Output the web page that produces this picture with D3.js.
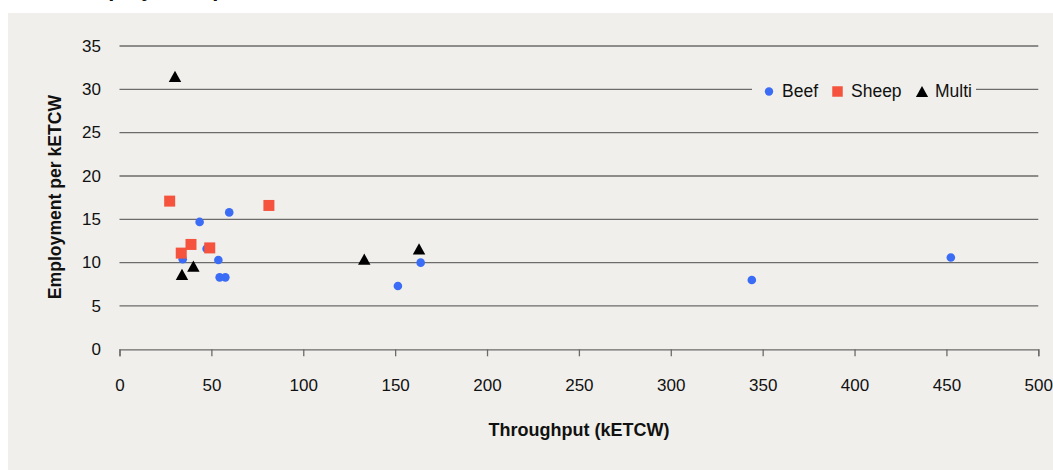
<!DOCTYPE html>
<html>
<head>
<meta charset="utf-8">
<script src="https://cdn.jsdelivr.net/npm/d3@7"></script>
<style>
  body { margin: 0; background: #fff; }
  svg text { font-family: "Liberation Sans", Arial, sans-serif; fill: #111; }
</style>
</head>
<body>
<div class="chart"></div>
<script>
// data
var beefX  = [34.4, 43.6, 47.4, 53.8, 54.5, 57.6, 59.7, 151.5, 163.9, 344.1, 452.4];
var beefY  = [10.4, 14.7, 11.6, 10.3, 8.3, 8.3, 15.8, 7.3, 10.0, 8.0, 10.6];
var sheepX = [27.3, 33.6, 38.9, 49.1, 81.3];
var sheepY = [17.1, 11.1, 12.1, 11.7, 16.6];
var multiX = [30.2, 34.0, 40.2, 133.2, 163.0];
var multiY = [31.5, 8.65, 9.6, 10.4, 11.6];

var xTicks = [0, 50, 100, 150, 200, 250, 300, 350, 400, 450, 500];
var yTicks = [0, 5, 10, 15, 20, 25, 30, 35];
var seriesNames = ["Beef", "Sheep", "Multi"];

var W = 1053, H = 470;
var margin = {top: 46, right: 14.7, bottom: 120.7, left: 119.5},
    width = W - margin.left - margin.right,
    height = H - margin.top - margin.bottom;

// triangle centred on its bounding box
var triBox = {
  draw: function(ctx, size) {
    var w = Math.sqrt(size), h = w * 0.9;
    ctx.moveTo(0, -h / 2);
    ctx.lineTo(w / 2, h / 2);
    ctx.lineTo(-w / 2, h / 2);
    ctx.closePath();
  }
};

var styles = {
  Beef:  {color: "#3a6cf5", type: d3.symbolCircle, size: 58},
  Sheep: {color: "#f5533d", type: d3.symbolSquare, size: 121},
  Multi: {color: "#000000", type: triBox, size: 155}
};

var svg = d3.select(".chart").append("svg")
  .attr("width", W)
  .attr("height", H);

// panel background
svg.append("rect")
  .attr("x", 8).attr("y", 13)
  .attr("width", W - 8).attr("height", H - 13)
  .attr("fill", "#f0efeb");

// title, mostly above the top edge
svg.append("text")
  .attr("x", 74).attr("y", -4)
  .style("font-weight", "bold")
  .style("font-size", "22px")
  .text("Employment per kETCW");

var g = svg.append("g")
  .attr("transform", "translate(" + margin.left + "," + margin.top + ")");

var x = d3.scaleLinear().domain([0, 500]).range([0, width]);
var y = d3.scaleLinear().domain([0, 35]).range([height, 0]);

// gridlines
g.append("g")
  .selectAll("line")
  .data(yTicks.filter(function(d) { return d > 0; }))
  .enter().append("line")
  .attr("x1", 0).attr("x2", width)
  .attr("y1", function(d) { return y(d); })
  .attr("y2", function(d) { return y(d); })
  .attr("stroke", "#6b6b6b")
  .attr("stroke-width", 1.3);

// x axis
var xAxis = g.append("g")
  .attr("transform", "translate(0," + height + ")")
  .call(d3.axisBottom(x).tickValues(xTicks).tickSize(7).tickSizeOuter(7).tickPadding(23));
xAxis.select(".domain").attr("stroke", "#6b6b6b").attr("stroke-width", 1.3);
xAxis.selectAll(".tick line").attr("stroke", "#6b6b6b").attr("stroke-width", 1.3);
xAxis.selectAll(".tick text").style("font-size", "17px").attr("fill", "#111");

// y axis labels only
var yAxis = g.append("g")
  .call(d3.axisLeft(y).tickValues(yTicks).tickSize(0).tickPadding(18.5));
yAxis.select(".domain").remove();
yAxis.selectAll(".tick text").style("font-size", "17px").attr("fill", "#111").attr("dy", "0.3em");

// axis titles
svg.append("text")
  .attr("x", margin.left + width / 2).attr("y", 436)
  .attr("text-anchor", "middle")
  .style("font-weight", "bold")
  .style("font-size", "18px")
  .text("Throughput (kETCW)");

svg.append("text")
  .attr("transform", "translate(61,197) rotate(-90)")
  .attr("text-anchor", "middle")
  .style("font-weight", "bold")
  .style("font-size", "17.6px")
  .text("Employment per kETCW");

// points
function drawSeries(name, xs, ys) {
  var s = styles[name];
  var pts = xs.map(function(v, i) { return {x: v, y: ys[i]}; });
  g.append("g").selectAll("path")
    .data(pts)
    .enter().append("path")
    .attr("d", d3.symbol().type(s.type).size(s.size))
    .attr("transform", function(d) { return "translate(" + x(d.x) + "," + y(d.y) + ")"; })
    .attr("fill", s.color);
}
drawSeries("Beef", beefX, beefY);
drawSeries("Sheep", sheepX, sheepY);
drawSeries("Multi", multiX, multiY);

// legend
var legend = svg.append("g");
legend.append("rect")
  .attr("x", 752).attr("y", 79)
  .attr("width", 224).attr("height", 24)
  .attr("fill", "#f0efeb");

var legendItems = [
  {name: "Beef",  mx: 769, tx: 782, size: 55},
  {name: "Sheep", mx: 837.5, tx: 851, size: 110},
  {name: "Multi", mx: 922, tx: 935, size: 150}
];
legendItems.forEach(function(it) {
  var s = styles[it.name];
  legend.append("path")
    .attr("d", d3.symbol().type(s.type).size(it.size))
    .attr("transform", "translate(" + it.mx + ",91.5)")
    .attr("fill", s.color);
  legend.append("text")
    .attr("x", it.tx).attr("y", 97)
    .style("font-size", "17.5px")
    .text(it.name);
});
</script>
</body>
</html>
